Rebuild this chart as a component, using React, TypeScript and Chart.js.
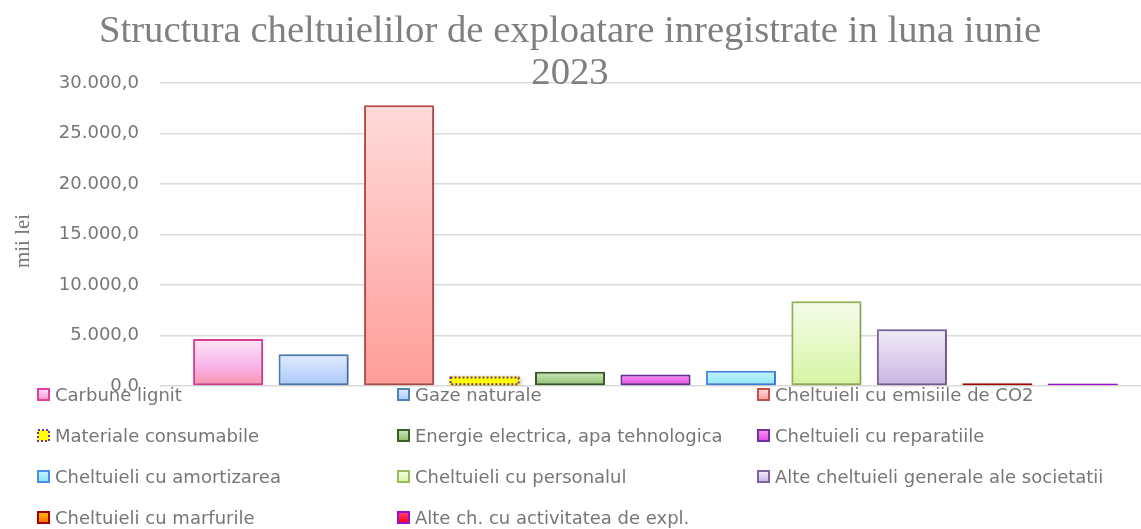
import React, { useEffect, useRef } from "react";
import { Chart, registerables } from "chart.js";

Chart.register(...registerables);

// ---- Data ----
const categories: string[] = [""];
const seriesLabels: string[] = [
  "Carbune lignit",
  "Gaze naturale",
  "Cheltuieli cu emisiile de CO2",
  "Materiale consumabile",
  "Energie electrica, apa tehnologica",
  "Cheltuieli cu reparatiile",
  "Cheltuieli cu amortizarea",
  "Cheltuieli cu personalul",
  "Alte cheltuieli generale ale societatii",
  "Cheltuieli cu marfurile",
  "Alte ch. cu activitatea de expl.",
];
const seriesValues: number[] = [4650, 3150, 27800, 930, 1400, 1150, 1510, 8400, 5630, 280, 250];
const yTickValues: number[] = [0, 5000, 10000, 15000, 20000, 25000, 30000];
const titleLines: string[] = ["Structura cheltuielilor de exploatare inregistrate in luna iunie", "2023"];
const yAxisTitle = "mii lei";

// ---- Styles ----
type Stop = [number, string];
const fillStops: Stop[][] = [
  [[0, "#FDE6F6"], [0.6, "#F8B2EA"], [1, "#F994A6"]],
  [[0, "#E3ECFD"], [1, "#A9C8FB"]],
  [[0, "#FFDADA"], [1, "#FF9D98"]],
  [[0, "#FFFF00"], [1, "#FFFF00"]],
  [[0, "#CDE6BC"], [1, "#8CBF6C"]],
  [[0, "#F696F6"], [1, "#E448E4"]],
  [[0, "#C4F5FB"], [1, "#8BE5F5"]],
  [[0, "#F5FCEA"], [1, "#D6F5A2"]],
  [[0, "#F1ECF8"], [1, "#C9B5E2"]],
  [[0, "#FFC000"], [1, "#FF6A00"]],
  [[0, "#FF4080"], [1, "#FF0000"]],
];
const borderColors: string[] = [
  "#E2409E", "#4F81BD", "#C0504D", "#7030A0", "#3A5F28", "#7030A0",
  "#4A8CF0", "#9BBB59", "#8064A2", "#A00000", "#9B10D0",
];
const dottedIndex = 3;
const textColor = "#767676";
const sansFont = "'DejaVu Sans', Verdana, sans-serif";
const serifFont = "'Liberation Serif', 'Times New Roman', serif";

function formatRo(v: number): string {
  const fixed = v.toFixed(1);
  const [intPart, dec] = fixed.split(".");
  const grouped = intPart.replace(/\B(?=(\d{3})+(?!\d))/g, ".");
  return grouped + "," + dec;
}

function makeGradient(ctx: CanvasRenderingContext2D, y0: number, y1: number, stops: Stop[]) {
  const g = ctx.createLinearGradient(0, y0, 0, Math.max(y1, y0 + 1));
  stops.forEach(([o, c]) => g.addColorStop(o, c));
  return g;
}

const decorPlugin = {
  id: "decor",
  beforeDatasetDraw(chart: any) {
    const ctx: CanvasRenderingContext2D = chart.ctx;
    ctx.save();
    ctx.shadowColor = "rgba(0,0,0,0.28)";
    ctx.shadowBlur = 4;
    ctx.shadowOffsetX = 1;
    ctx.shadowOffsetY = 1;
  },
  afterDatasetDraw(chart: any) {
    chart.ctx.restore();
  },
  afterDatasetsDraw(chart: any) {
    const ctx: CanvasRenderingContext2D = chart.ctx;
    const meta = chart.getDatasetMeta(dottedIndex);
    const el = meta && meta.data && meta.data[0];
    if (el) {
      const p = el.getProps(["x", "y", "base", "width"], true);
      ctx.save();
      ctx.strokeStyle = borderColors[dottedIndex];
      ctx.lineWidth = 2;
      ctx.setLineDash([2, 2]);
      ctx.strokeRect(p.x - p.width / 2 + 1, p.y + 1, p.width - 2, p.base - p.y - 2);
      ctx.restore();
    }
  },
  afterDraw(chart: any) {
    const ctx: CanvasRenderingContext2D = chart.ctx;
    ctx.save();
    // Title
    ctx.fillStyle = "#7F7F7F";
    ctx.font = `38.7px ${serifFont}`;
    ctx.textAlign = "center";
    ctx.textBaseline = "alphabetic";
    ctx.fillText(titleLines[0], 570, 42);
    ctx.fillText(titleLines[1], 570, 84);
    // Y axis title
    ctx.save();
    ctx.translate(23, 241);
    ctx.rotate(-Math.PI / 2);
    ctx.font = `21px ${serifFont}`;
    ctx.fillStyle = textColor;
    ctx.textAlign = "center";
    ctx.textBaseline = "middle";
    ctx.fillText(yAxisTitle, 0, 0);
    ctx.restore();
    // Legend
    const colX = [37, 397, 757];
    const rowY0 = 395;
    const rowH = 41;
    ctx.font = `18px ${sansFont}`;
    ctx.textAlign = "left";
    ctx.textBaseline = "middle";
    chart.data.datasets.forEach((ds: any, i: number) => {
      const cx = colX[i % 3];
      const cy = rowY0 + Math.floor(i / 3) * rowH;
      const bx = cx + 1, by = cy - 6, bs = 11;
      ctx.fillStyle = makeGradient(ctx, by, by + bs, fillStops[i]);
      ctx.fillRect(bx, by, bs, bs);
      ctx.strokeStyle = borderColors[i];
      ctx.lineWidth = 2;
      if (i === dottedIndex) ctx.setLineDash([2, 2]);
      else ctx.setLineDash([]);
      ctx.strokeRect(bx, by, bs, bs);
      ctx.setLineDash([]);
      ctx.fillStyle = textColor;
      ctx.fillText(ds.label, cx + 18, cy + 1);
    });
    ctx.restore();
  },
};

export default function App() {
  const canvasRef = useRef<HTMLCanvasElement | null>(null);

  useEffect(() => {
    const canvas = canvasRef.current;
    if (!canvas) return;
    const datasets = seriesLabels.map((label, i) => ({
      label,
      data: [seriesValues[i]],
      backgroundColor: (c: any) => {
        const chart = c.chart;
        const ya = chart.scales && chart.scales.y;
        if (!chart.chartArea || !ya || c.raw == null) return fillStops[i][fillStops[i].length - 1][1];
        const y0 = ya.getPixelForValue(c.raw);
        const y1 = ya.getPixelForValue(0);
        return makeGradient(chart.ctx, y0, y1, fillStops[i]);
      },
      borderColor: borderColors[i],
      borderWidth: i === dottedIndex ? 0 : 2,
      borderSkipped: false,
      barPercentage: 0.82,
      categoryPercentage: 0.9487,
    }));
    const chart = new Chart(canvas, {
      type: "bar",
      data: { labels: categories, datasets },
      plugins: [decorPlugin],
      options: {
        animation: false,
        responsive: false,
        devicePixelRatio: 1,
        layout: { padding: { top: 83, bottom: 143, left: 0, right: 0 } },
        plugins: {
          legend: { display: false },
          title: { display: false },
          tooltip: { enabled: false },
        },
        scales: {
          x: { display: false },
          y: {
            min: 0,
            max: 30000,
            afterFit: (scale: any) => {
              scale.width = 160;
            },
            afterBuildTicks: (scale: any) => {
              scale.ticks = yTickValues.map((v) => ({ value: v }));
            },
            border: { display: false },
            grid: { color: "#D9D9D9", lineWidth: 1.5, drawTicks: false },
            ticks: {
              padding: 21,
              color: textColor,
              font: { family: sansFont, size: 18 },
              callback: (v: any) => formatRo(Number(v)),
            },
          },
        },
      },
    });
    return () => chart.destroy();
  }, []);

  return (
    <div
      style={{
        position: "absolute",
        left: 0,
        top: 0,
        width: 1141,
        height: 529,
        overflow: "hidden",
        background: "#fff",
      }}
    >
      <canvas ref={canvasRef} width={1151} height={529} style={{ display: "block", width: 1151, height: 529 }} />
    </div>
  );
}
